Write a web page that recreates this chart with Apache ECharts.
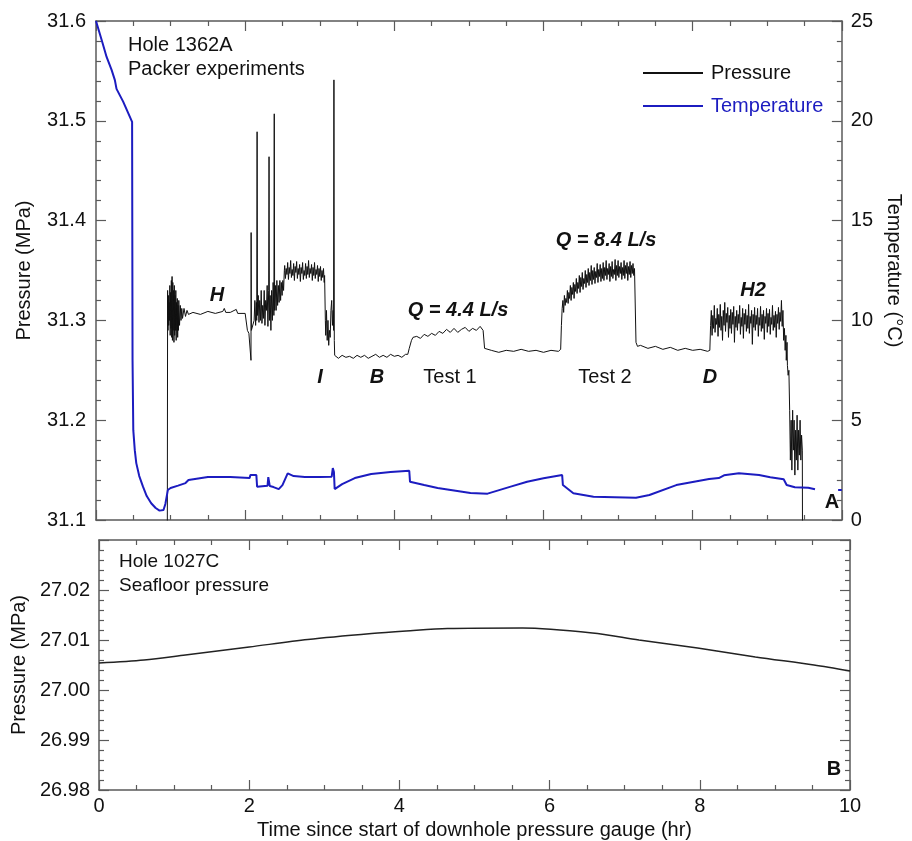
<!DOCTYPE html>
<html lang="en">
<head>
  <meta charset="UTF-8" />
  <title>Hole 1362A packer experiments</title>
  <script src="https://cdn.jsdelivr.net/npm/echarts@6/dist/echarts.min.js"></script>
  <style>
    html, body { margin: 0; padding: 0; background: #fff; }
  </style>
</head>
<body>
  <div id="main" style="width: 912px; height: 841px;"></div>
  <script type="text/javascript">
    // x ticks shared by both panels (hr)
    const timeTicks = [0, 2, 4, 6, 8, 10]

    // Hole 1362A downhole pressure, [hr, MPa]
    const pressureStart = [[0.955, 31.0], [0.96, 31.33], [0.965, 31.29], [0.97, 31.325], [0.975, 31.295], [0.98, 31.318],
      [0.985, 31.30], [0.99, 31.335], [0.995, 31.285], [1.0, 31.328], [1.005, 31.292], [1.01, 31.34], [1.015, 31.283],
      [1.02, 31.344], [1.025, 31.28], [1.03, 31.338], [1.035, 31.29], [1.04, 31.33], [1.045, 31.278], [1.05, 31.335],
      [1.055, 31.285], [1.06, 31.325], [1.065, 31.29], [1.07, 31.33], [1.075, 31.28], [1.08, 31.318], [1.085, 31.29],
      [1.09, 31.322], [1.095, 31.283], [1.10, 31.315], [1.105, 31.29], [1.11, 31.32], [1.12, 31.295], [1.13, 31.315],
      [1.14, 31.3], [1.15, 31.312], [1.16, 31.302], [1.18, 31.312], [1.2, 31.304], [1.22, 31.31], [1.24, 31.306]]
    const pressureH = [[1.3, 31.308], [1.4, 31.306], [1.5, 31.309], [1.6, 31.307], [1.7, 31.309], [1.72, 31.312],
      [1.74, 31.308], [1.8, 31.308], [1.88, 31.311], [1.9, 31.307], [2.0, 31.307],
      [2.03, 31.29], [2.05, 31.287], [2.075, 31.287], [2.078, 31.26], [2.08, 31.388], [2.083, 31.29], [2.1, 31.29]]
    const pressureSpikes = [[2.12, 31.30], [2.13, 31.32], [2.14, 31.295], [2.15, 31.318], [2.155, 31.30], [2.16, 31.489],
      [2.165, 31.305], [2.175, 31.325], [2.185, 31.298], [2.195, 31.32], [2.205, 31.30], [2.215, 31.33], [2.225, 31.297],
      [2.235, 31.315], [2.245, 31.302], [2.255, 31.33], [2.265, 31.295], [2.275, 31.32], [2.285, 31.31], [2.295, 31.335],
      [2.305, 31.294], [2.315, 31.33], [2.32, 31.464], [2.325, 31.30], [2.335, 31.325], [2.345, 31.29], [2.355, 31.33],
      [2.365, 31.3], [2.375, 31.338], [2.385, 31.305], [2.39, 31.507], [2.395, 31.31], [2.405, 31.335], [2.415, 31.31],
      [2.425, 31.34], [2.435, 31.315], [2.445, 31.335], [2.455, 31.318], [2.465, 31.34], [2.475, 31.32], [2.485, 31.338],
      [2.495, 31.325], [2.505, 31.34], [2.515, 31.33], [2.525, 31.35]]
    const pressureHigh = [[2.53, 31.355], [2.54, 31.342], [2.55, 31.352], [2.56, 31.346], [2.57, 31.358], [2.58, 31.341],
      [2.59, 31.353], [2.60, 31.347], [2.61, 31.36], [2.62, 31.343], [2.63, 31.351], [2.64, 31.345], [2.65, 31.357],
      [2.66, 31.34], [2.67, 31.354], [2.68, 31.348], [2.69, 31.359], [2.70, 31.342], [2.71, 31.352], [2.72, 31.346],
      [2.73, 31.356], [2.74, 31.339], [2.75, 31.353], [2.76, 31.347], [2.77, 31.358], [2.78, 31.341], [2.79, 31.35],
      [2.80, 31.345], [2.81, 31.357], [2.82, 31.342], [2.83, 31.354], [2.84, 31.346], [2.85, 31.36], [2.86, 31.343],
      [2.87, 31.352], [2.88, 31.347], [2.89, 31.356], [2.90, 31.34], [2.91, 31.353], [2.92, 31.345], [2.93, 31.358],
      [2.94, 31.342], [2.95, 31.351], [2.96, 31.346], [2.97, 31.355], [2.98, 31.339], [2.99, 31.352], [3.00, 31.344],
      [3.01, 31.354], [3.02, 31.34], [3.03, 31.35], [3.04, 31.343], [3.05, 31.352], [3.06, 31.338], [3.065, 31.345],
      [3.075, 31.3], [3.08, 31.285], [3.09, 31.31], [3.1, 31.28], [3.11, 31.3], [3.12, 31.275], [3.13, 31.29],
      [3.14, 31.283], [3.15, 31.31], [3.16, 31.32], [3.17, 31.295], [3.18, 31.31], [3.185, 31.29], [3.19, 31.541],
      [3.195, 31.28], [3.2, 31.265]]
    const pressureTest1 = [[3.25, 31.262], [3.3, 31.265], [3.35, 31.263], [3.4, 31.264], [3.45, 31.262], [3.5, 31.265],
      [3.55, 31.263], [3.6, 31.265], [3.65, 31.262], [3.7, 31.264], [3.75, 31.266], [3.8, 31.263], [3.85, 31.265],
      [3.9, 31.263], [3.95, 31.266], [4.0, 31.264], [4.05, 31.265], [4.1, 31.263], [4.15, 31.266], [4.18, 31.266],
      [4.2, 31.272], [4.23, 31.28], [4.25, 31.283], [4.27, 31.281], [4.3, 31.284], [4.35, 31.282], [4.4, 31.286],
      [4.45, 31.284], [4.5, 31.287], [4.55, 31.285], [4.6, 31.289], [4.65, 31.287], [4.7, 31.291], [4.75, 31.288],
      [4.8, 31.292], [4.85, 31.288], [4.9, 31.291], [4.95, 31.293], [5.0, 31.289], [5.05, 31.292], [5.1, 31.29],
      [5.15, 31.294], [5.19, 31.29], [5.21, 31.272], [5.23, 31.27], [5.3, 31.27], [5.4, 31.268], [5.5, 31.27],
      [5.6, 31.269], [5.7, 31.271], [5.8, 31.269], [5.9, 31.27], [6.0, 31.268], [6.1, 31.27], [6.2, 31.269], [6.23, 31.271]]
    const pressureTest2 = [[6.24, 31.295], [6.25, 31.312], [6.26, 31.32], [6.27, 31.308], [6.28, 31.325], [6.29, 31.315],
      [6.30, 31.322], [6.31, 31.318], [6.32, 31.33], [6.33, 31.317], [6.34, 31.328], [6.35, 31.322], [6.36, 31.335],
      [6.37, 31.32], [6.38, 31.333], [6.39, 31.326], [6.40, 31.338], [6.41, 31.322], [6.42, 31.336], [6.43, 31.329],
      [6.44, 31.342], [6.45, 31.327], [6.46, 31.338], [6.47, 31.332], [6.48, 31.345], [6.49, 31.328], [6.50, 31.343],
      [6.51, 31.334], [6.52, 31.348], [6.53, 31.331], [6.54, 31.342], [6.55, 31.337], [6.56, 31.35], [6.57, 31.333],
      [6.58, 31.346], [6.59, 31.338], [6.60, 31.352], [6.61, 31.335], [6.62, 31.348], [6.63, 31.34], [6.64, 31.355],
      [6.65, 31.336], [6.66, 31.35], [6.67, 31.341], [6.68, 31.353], [6.69, 31.337], [6.70, 31.349], [6.71, 31.343],
      [6.72, 31.357], [6.73, 31.338], [6.74, 31.351], [6.75, 31.344], [6.76, 31.356], [6.77, 31.339], [6.78, 31.352],
      [6.79, 31.342], [6.80, 31.358], [6.81, 31.34], [6.82, 31.353], [6.83, 31.345], [6.84, 31.36], [6.85, 31.341],
      [6.86, 31.352], [6.87, 31.346], [6.88, 31.357], [6.89, 31.339], [6.90, 31.354], [6.91, 31.344], [6.92, 31.359],
      [6.93, 31.342], [6.94, 31.351], [6.95, 31.346], [6.96, 31.361], [6.97, 31.34], [6.98, 31.355], [6.99, 31.345],
      [7.00, 31.36], [7.01, 31.343], [7.02, 31.354], [7.03, 31.347], [7.04, 31.358], [7.05, 31.341], [7.06, 31.353],
      [7.07, 31.345], [7.08, 31.36], [7.09, 31.342], [7.10, 31.355], [7.11, 31.347], [7.12, 31.358], [7.13, 31.34],
      [7.14, 31.354], [7.15, 31.346], [7.16, 31.359], [7.17, 31.343], [7.18, 31.355], [7.19, 31.347], [7.20, 31.357],
      [7.21, 31.345], [7.22, 31.352], [7.24, 31.278], [7.26, 31.274], [7.3, 31.275], [7.4, 31.272], [7.5, 31.274],
      [7.6, 31.271], [7.7, 31.273], [7.8, 31.27], [7.9, 31.272], [8.0, 31.27], [8.1, 31.271], [8.2, 31.269], [8.23, 31.27]]
    const pressureH2 = [[8.24, 31.295], [8.25, 31.31], [8.26, 31.285], [8.27, 31.305], [8.28, 31.292], [8.29, 31.315],
      [8.30, 31.288], [8.31, 31.302], [8.32, 31.296], [8.33, 31.312], [8.34, 31.284], [8.35, 31.306], [8.36, 31.293],
      [8.37, 31.316], [8.38, 31.29], [8.39, 31.304], [8.40, 31.28], [8.41, 31.31], [8.42, 31.295], [8.43, 31.318],
      [8.44, 31.289], [8.45, 31.307], [8.46, 31.298], [8.47, 31.313], [8.48, 31.283], [8.49, 31.305], [8.50, 31.292],
      [8.51, 31.311], [8.52, 31.287], [8.53, 31.308], [8.54, 31.296], [8.55, 31.314], [8.56, 31.278], [8.57, 31.304],
      [8.58, 31.293], [8.59, 31.31], [8.60, 31.29], [8.61, 31.306], [8.62, 31.297], [8.63, 31.315], [8.64, 31.286],
      [8.65, 31.303], [8.66, 31.294], [8.67, 31.312], [8.68, 31.282], [8.69, 31.307], [8.70, 31.296], [8.71, 31.311],
      [8.72, 31.289], [8.73, 31.305], [8.74, 31.292], [8.75, 31.316], [8.76, 31.287], [8.77, 31.304], [8.78, 31.297],
      [8.79, 31.31], [8.80, 31.276], [8.81, 31.306], [8.82, 31.293], [8.83, 31.313], [8.84, 31.29], [8.85, 31.305],
      [8.86, 31.296], [8.87, 31.312], [8.88, 31.284], [8.89, 31.303], [8.90, 31.295], [8.91, 31.314], [8.92, 31.289],
      [8.93, 31.306], [8.94, 31.292], [8.95, 31.31], [8.96, 31.281], [8.97, 31.304], [8.98, 31.297], [8.99, 31.312],
      [9.00, 31.288], [9.01, 31.307], [9.02, 31.294], [9.03, 31.311], [9.04, 31.286], [9.05, 31.303], [9.06, 31.296],
      [9.07, 31.315], [9.08, 31.29], [9.09, 31.305], [9.10, 31.293], [9.11, 31.309], [9.12, 31.283], [9.13, 31.306],
      [9.14, 31.297], [9.15, 31.313], [9.16, 31.291], [9.17, 31.308], [9.18, 31.299], [9.19, 31.32], [9.20, 31.294],
      [9.21, 31.31]]
    const pressureEnd = [[9.22, 31.28], [9.23, 31.292], [9.24, 31.27], [9.25, 31.285], [9.255, 31.26], [9.265, 31.278],
      [9.27, 31.255], [9.28, 31.245], [9.29, 31.25], [9.3, 31.21], [9.31, 31.16], [9.32, 31.2], [9.33, 31.15],
      [9.34, 31.21], [9.35, 31.17], [9.36, 31.2], [9.37, 31.145], [9.38, 31.19], [9.39, 31.16], [9.4, 31.205],
      [9.41, 31.15], [9.42, 31.19], [9.43, 31.165], [9.44, 31.2], [9.45, 31.16], [9.46, 31.185], [9.47, 31.17],
      [9.475, 31.0]]

    // Hole 1362A temperature, [hr, °C]; null splits off the short piece at the right edge
    const temperature = [[0, 25], [0.076, 24.05], [0.142, 23.2], [0.209, 22.55], [0.253, 22.04], [0.275, 21.6],
      [0.364, 20.96], [0.484, 19.95], [0.49, 8], [0.5, 4.5], [0.52, 3.5], [0.54, 2.85], [0.58, 2.2], [0.63, 1.67],
      [0.68, 1.2], [0.74, 0.84], [0.8, 0.6], [0.852, 0.47], [0.905, 0.5], [0.93, 0.8], [0.963, 1.5], [1.0, 1.6],
      [1.1, 1.72], [1.2, 1.85], [1.24, 2.0], [1.26, 2.1], [1.5, 2.15], [1.8, 2.15], [2.06, 2.1], [2.07, 2.25],
      [2.15, 2.25], [2.16, 1.67], [2.3, 1.72], [2.31, 2.15], [2.33, 1.7], [2.38, 1.65], [2.45, 1.55], [2.5, 1.75],
      [2.57, 2.34], [2.65, 2.2], [2.8, 2.15], [3.0, 2.15], [3.16, 2.17], [3.175, 2.6], [3.19, 2.4], [3.2, 1.55],
      [3.3, 1.8], [3.47, 2.1], [3.69, 2.3], [3.95, 2.4], [4.2, 2.47], [4.21, 1.92], [4.4, 1.75], [4.58, 1.6],
      [5.02, 1.35], [5.25, 1.32], [5.56, 1.67], [5.78, 1.92], [6.0, 2.09], [6.25, 2.25], [6.26, 1.75], [6.4, 1.34],
      [6.67, 1.17], [7.24, 1.12], [7.42, 1.25], [7.78, 1.75], [8.22, 2.05], [8.35, 2.1], [8.42, 2.24], [8.62, 2.34],
      [8.89, 2.25], [9.04, 2.14], [9.22, 2.04], [9.26, 1.75], [9.37, 1.64], [9.55, 1.62], [9.64, 1.54],
      [9.8, null], [9.95, 1.5], [10, 1.5]]

    // Hole 1027C seafloor pressure, [hr, MPa]
    const seafloor = [[0, 27.0054], [0.6, 27.006], [1.15, 27.007], [2.0, 27.0086], [2.78, 27.0101], [3.63, 27.0113],
      [4.09, 27.0118], [4.64, 27.0123], [5.64, 27.0124], [6.57, 27.0114], [7.19, 27.010], [7.97, 27.0084],
      [8.74, 27.0066], [9.52, 27.005], [10, 27.0038]]

    const FONT = '"Liberation Sans", Arial, sans-serif'
    const AXIS_COLOR = '#5a5a5a'
    const BLUE = '#1c1cc0'

    var myChart = echarts.init(document.getElementById('main'))

    // one framed axis; ticks pointing inward
    function frameAxis(extra) {
      return Object.assign({
        type: 'value',
        splitLine: { show: false },
        axisLine: { show: true, onZero: false, lineStyle: { color: AXIS_COLOR, width: 1.5 } },
        axisTick: { show: true, inside: true, length: 10, lineStyle: { color: AXIS_COLOR, width: 1.2 } },
        minorTick: { show: true, splitNumber: 5, length: 5, lineStyle: { color: AXIS_COLOR, width: 1.2 } },
        axisLabel: { show: false, fontFamily: FONT, fontSize: 20, color: '#111' },
        nameTextStyle: { fontFamily: FONT, fontSize: 20, color: '#111' }
      }, extra)
    }

    function timeAxis(gridIndex, position, showLabel) {
      return frameAxis({
        gridIndex: gridIndex,
        position: position,
        min: timeTicks[0],
        max: timeTicks[timeTicks.length - 1],
        interval: 2,
        minorTick: { show: true, splitNumber: 4, length: 5, lineStyle: { color: AXIS_COLOR, width: 1.2 } },
        axisLabel: { show: showLabel, fontFamily: FONT, fontSize: 20, color: '#111', margin: 6 }
      })
    }

    function note(text, x, y, weight, style, size, color) {
      return {
        type: 'text',
        x: x,
        y: y,
        style: {
          text: text,
          fontFamily: FONT,
          fontSize: size || 20,
          fontWeight: weight || 'normal',
          fontStyle: style || 'normal',
          fill: color || '#111',
          align: 'center',
          verticalAlign: 'middle'
        }
      }
    }

    var option = {
      animation: false,
      backgroundColor: '#fff',
      grid: [
        { left: 96, top: 21, width: 751, height: 499 },
        { left: 99, top: 540, width: 751, height: 250 }
      ],
      legend: {
        orient: 'vertical',
        left: 643,
        top: 63,
        padding: 0,
        itemGap: 13,
        itemWidth: 60,
        itemHeight: 2,
        icon: 'rect',
        textStyle: { fontFamily: FONT, fontSize: 20, padding: [0, 0, 0, 3] },
        data: [
          { name: 'Pressure', textStyle: { color: '#111' } },
          { name: 'Temperature', textStyle: { color: BLUE } }
        ]
      },
      xAxis: [
        timeAxis(0, 'bottom', false),
        timeAxis(0, 'top', false),
        Object.assign(timeAxis(1, 'bottom', true), {
          name: 'Time since start of downhole pressure gauge (hr)',
          nameLocation: 'middle',
          nameGap: 30
        }),
        timeAxis(1, 'top', false)
      ],
      yAxis: [
        frameAxis({
          gridIndex: 0, position: 'left', min: 31.1, max: 31.6, interval: 0.1,
          name: 'Pressure (MPa)', nameLocation: 'middle', nameGap: 62,
          axisLabel: { show: true, fontFamily: FONT, fontSize: 20, color: '#111', margin: 10,
            formatter: function (v) { return v.toFixed(1) } }
        }),
        frameAxis({
          gridIndex: 0, position: 'right', min: 0, max: 25, interval: 5,
          name: 'Temperature (°C)', nameLocation: 'middle', nameGap: 32, nameRotate: -90,
          axisLabel: { show: true, fontFamily: FONT, fontSize: 20, color: '#111', margin: 9 }
        }),
        frameAxis({
          gridIndex: 1, position: 'left', min: 26.98, max: 27.03, interval: 0.01,
          name: 'Pressure (MPa)', nameLocation: 'middle', nameGap: 66,
          axisLabel: { show: true, fontFamily: FONT, fontSize: 20, color: '#111', margin: 9, showMaxLabel: false,
            formatter: function (v) { return v > 27.025 ? '' : v.toFixed(2) } }
        }),
        frameAxis({ gridIndex: 1, position: 'right', min: 26.98, max: 27.03, interval: 0.01 })
      ],
      series: [
        {
          name: 'Pressure',
          type: 'line',
          xAxisIndex: 0,
          yAxisIndex: 0,
          showSymbol: false,
          clip: true,
          color: '#111',
          lineStyle: { color: '#111', width: 1 },
          data: [].concat(pressureStart, pressureH, pressureSpikes, pressureHigh,
            pressureTest1, pressureTest2, pressureH2, pressureEnd)
        },
        {
          name: 'Temperature',
          type: 'line',
          xAxisIndex: 0,
          yAxisIndex: 1,
          showSymbol: false,
          clip: true,
          color: BLUE,
          lineStyle: { color: BLUE, width: 2 },
          data: temperature
        },
        {
          name: 'Seafloor pressure',
          type: 'line',
          xAxisIndex: 2,
          yAxisIndex: 2,
          showSymbol: false,
          smooth: 0.3,
          color: '#222',
          lineStyle: { color: '#222', width: 1.5 },
          data: seafloor
        }
      ],
      graphic: [
        { type: 'text', x: 128, y: 35, style: { text: 'Hole 1362A', fontFamily: FONT, fontSize: 20, fill: '#111' } },
        { type: 'text', x: 128, y: 59, style: { text: 'Packer experiments', fontFamily: FONT, fontSize: 20, fill: '#111' } },
        note('H', 217, 295, 'bold', 'italic'),
        note('I', 320, 377, 'bold', 'italic'),
        note('B', 377, 377, 'bold', 'italic'),
        note('Test 1', 450, 377),
        note('Q = 4.4 L/s', 458, 310, 'bold', 'italic'),
        note('Q = 8.4 L/s', 606, 240, 'bold', 'italic'),
        note('Test 2', 605, 377),
        note('D', 710, 377, 'bold', 'italic'),
        note('H2', 753, 290, 'bold', 'italic'),
        note('A', 832, 502, 'bold'),
        { type: 'text', x: 119, y: 552, style: { text: 'Hole 1027C', fontFamily: FONT, fontSize: 19, fill: '#111' } },
        { type: 'text', x: 119, y: 576, style: { text: 'Seafloor pressure', fontFamily: FONT, fontSize: 19, fill: '#111' } },
        note('B', 834, 769, 'bold')
      ]
    }

    myChart.setOption(option)
  </script>
</body>
</html>
